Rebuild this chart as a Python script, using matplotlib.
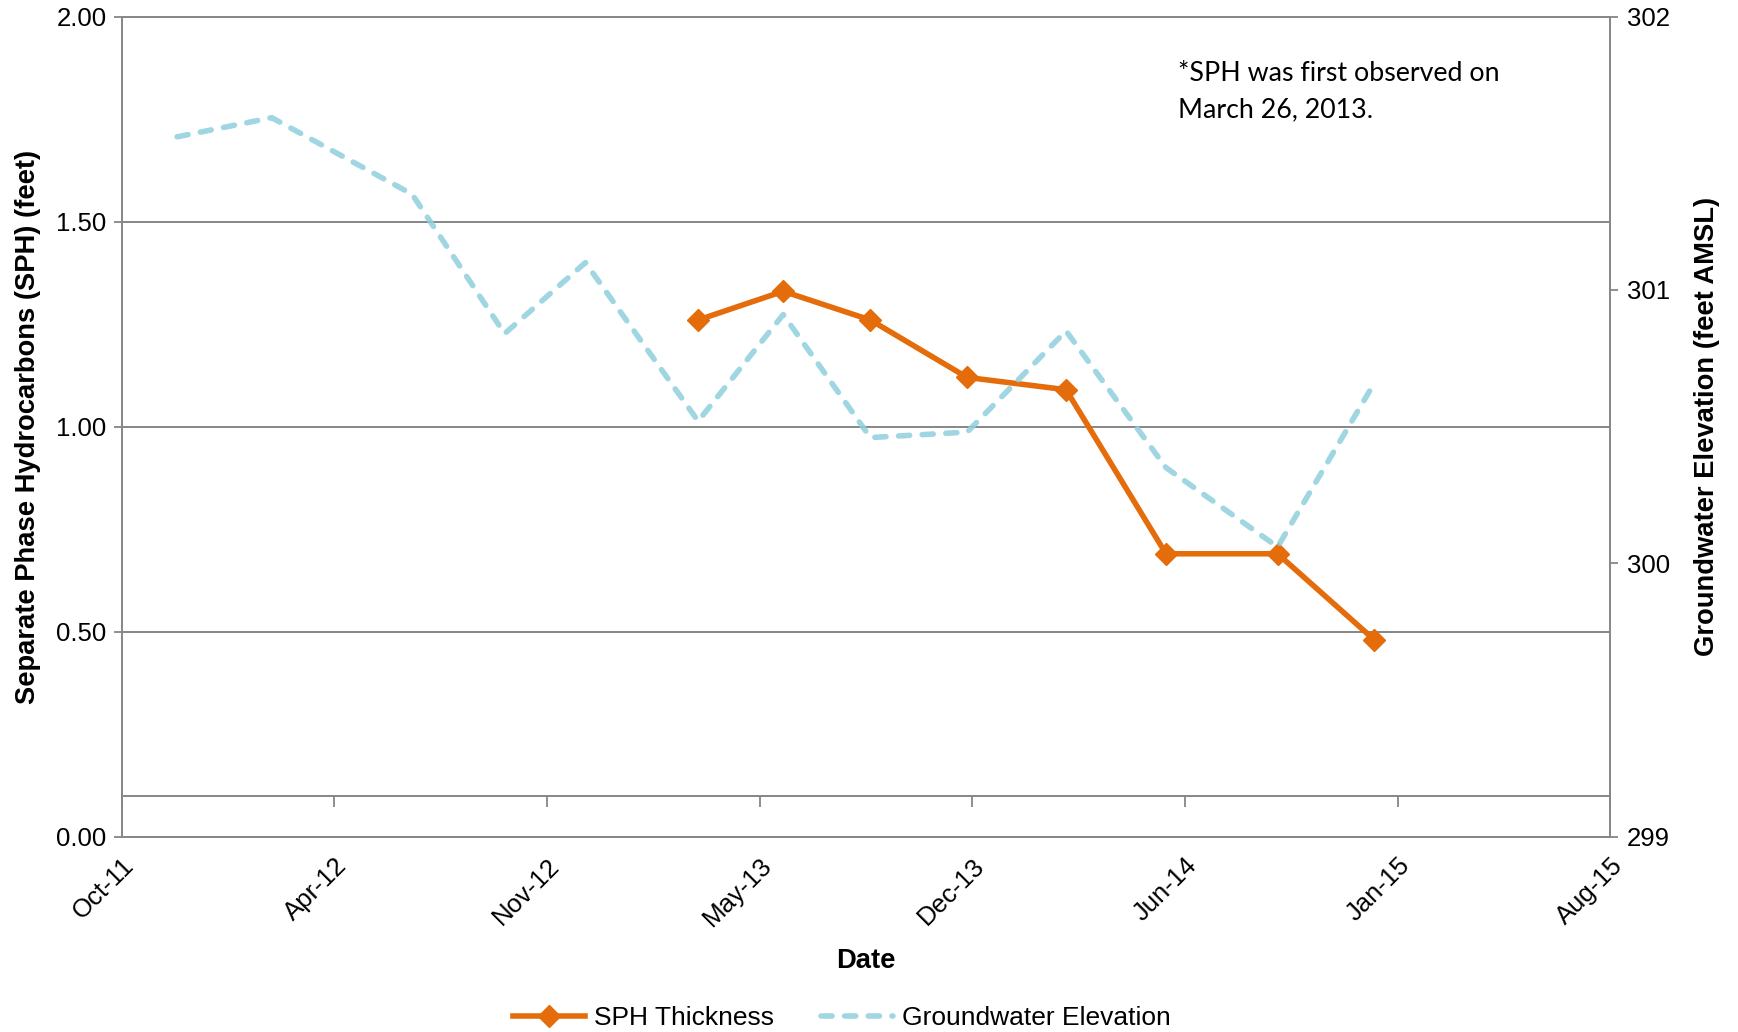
import matplotlib
matplotlib.use("Agg")
import matplotlib.pyplot as plt
import matplotlib.dates as mdates
import pandas as pd

plt.rcParams["font.family"] = ["Liberation Sans", "DejaVu Sans"]

# Groundwater elevation gauging events (feet AMSL)
gw_dates = ["2011-11-22", "2012-02-19", "2012-06-30", "2012-09-25", "2012-12-10",
            "2013-03-26", "2013-06-14", "2013-09-04", "2013-12-04", "2014-03-07",
            "2014-06-09", "2014-09-22", "2014-12-22"]
gw_elev = [301.56, 301.63, 301.35, 300.84, 301.10, 300.52, 300.91, 300.46,
           300.48, 300.85, 300.35, 300.06, 300.66]

# Separate phase hydrocarbon thickness (feet)
sph_dates = ["2013-03-26", "2013-06-14", "2013-09-04", "2013-12-04",
             "2014-03-07", "2014-06-09", "2014-09-22", "2014-12-22"]
sph_thick = [1.26, 1.33, 1.26, 1.12, 1.09, 0.69, 0.69, 0.48]

# Date axis: 200-day major unit starting 1 Oct 2011
x_start = "2011-10-01"
x_step_days = 200
tick_labels = ["Oct-11", "Apr-12", "Nov-12", "May-13", "Dec-13", "Jun-14", "Jan-15", "Aug-15"]
left_ticks = [0.0, 0.5, 1.0, 1.5, 2.0]
right_ticks = [299, 300, 301, 302]

note_lines = ["*SPH was first observed on", "March 26, 2013."]

GRAY = "#868686"
ORANGE = "#E46C0A"
BLUE = "#8fcfdd"
FS = 18.5
TITLE_FS = 19.7

tick_pos = mdates.date2num(pd.date_range(x_start, periods=len(tick_labels),
                                         freq=f"{x_step_days}D"))
gw_x = mdates.date2num(pd.to_datetime(gw_dates))
sph_x = mdates.date2num(pd.to_datetime(sph_dates))

fig = plt.figure(figsize=(17.38, 10.32), dpi=100)
ax = fig.add_axes([0.0701, 0.1892, 0.8565, 0.7948])

ax.set_xlim(tick_pos[0], tick_pos[-1])
ax.set_ylim(left_ticks[0], left_ticks[-1])
ax.set_yticks(left_ticks)
ax.set_yticklabels([f"{v:.2f}" for v in left_ticks])
ax.set_xticks(tick_pos)
ax.set_xticklabels(tick_labels, rotation=45, ha="right", va="top",
                   rotation_mode="anchor")
ax.tick_params(axis="x", length=0, labelsize=FS, pad=12)
ax.tick_params(axis="y", direction="out", length=6, width=1.3, color=GRAY,
               labelsize=FS, pad=5)
ax.yaxis.grid(True, color=GRAY, lw=1.4)
ax.set_axisbelow(True)
for s in ax.spines.values():
    s.set_color(GRAY)
    s.set_linewidth(1.4)

# Horizontal date axis line carrying the tick marks
sec = ax.secondary_xaxis(0.05)
sec.set_xticks(tick_pos)
sec.set_xticklabels([])
sec.tick_params(direction="out", length=8, width=1.3, color=GRAY)
sec.spines["bottom"].set_color(GRAY)
sec.spines["bottom"].set_linewidth(1.4)

ax.plot(sph_x, sph_thick, color=ORANGE, lw=4.0, marker="D", markersize=11,
        label="SPH Thickness", zorder=3)

ax2 = ax.twinx()
ax2.set_ylim(right_ticks[0], right_ticks[-1])
ax2.set_yticks(right_ticks)
ax2.set_yticklabels([str(v) for v in right_ticks])
ax2.tick_params(axis="y", direction="out", length=6, width=1.3, color=GRAY,
                labelsize=FS, pad=6)
for s in ax2.spines.values():
    s.set_visible(False)

gw_line, = ax2.plot(gw_x, gw_elev, color=BLUE, alpha=0.85, lw=4.0,
                    dashes=(2.0, 2.26), dash_capstyle="round",
                    solid_capstyle="round", label="Groundwater Elevation")

ax.set_ylabel("Separate Phase Hydrocarbons (SPH) (feet)", fontsize=TITLE_FS,
              fontweight="bold", labelpad=11)
ax2.set_ylabel("Groundwater Elevation (feet AMSL)", fontsize=TITLE_FS,
               fontweight="bold", labelpad=17)
ax.set_xlabel("Date", fontsize=TITLE_FS, fontweight="bold", labelpad=12)

# Note in the upper right of the plot area
for i, line in enumerate(note_lines):
    fig.text(0.6778, 0.9215 - i * 0.0355, line, fontsize=19.3, family="Lato",
             ha="left", va="baseline")

handles = ax.get_lines()[:1] + [gw_line]
fig.legend(handles, [h.get_label() for h in handles], loc="center",
           bbox_to_anchor=(0.4845, 0.0133), ncol=2, frameon=False,
           fontsize=19, handlelength=2.7, handletextpad=0.35,
           columnspacing=1.8)

fig.savefig("out.png", dpi=100)
